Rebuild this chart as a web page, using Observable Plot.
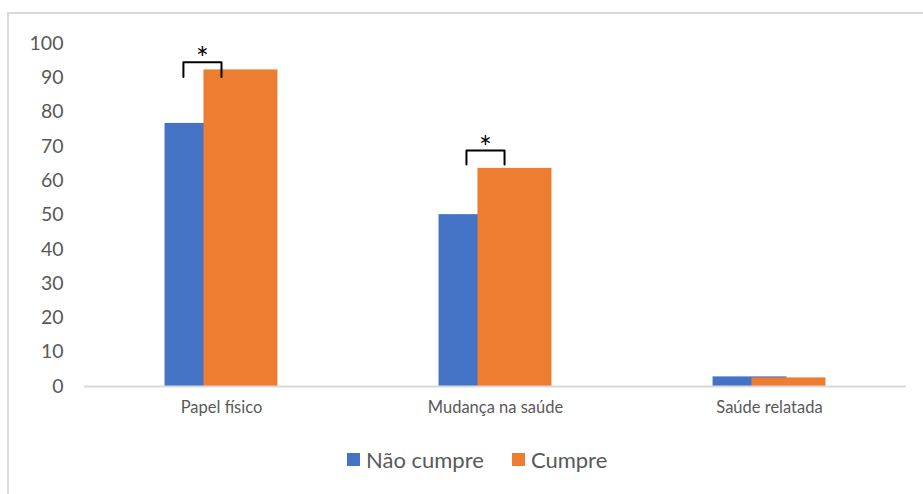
<!DOCTYPE html>
<html><head><meta charset="utf-8">
<script src="https://cdn.jsdelivr.net/npm/d3@7"></script>
<script src="https://cdn.jsdelivr.net/npm/@observablehq/plot@0.6"></script>
<style>
body{margin:0;background:#fff;width:923px;height:494px;overflow:hidden;position:relative;font-family:Lato,sans-serif}
#frame{position:absolute;left:7px;top:12px;width:1000px;height:600px;border:2px solid #d9d9d9;box-sizing:border-box}
#chart{position:absolute;left:0;top:0}
#legend{position:absolute;left:347px;top:446px;display:flex;align-items:center;font-size:22px;color:#595959;white-space:nowrap}
.item{display:flex;align-items:center;margin-right:28px}
.sw{width:13px;height:13px;margin-right:6px}
</style></head><body>
<div id="frame"></div><div id="chart"></div><div id="legend"></div>
<script>
// Data
const categories = ["Papel físico", "Mudança na saúde", "Saúde relatada"];
const seriesNames = ["Não cumpre", "Cumpre"];
const naoCumpre = [76.7, 50.1, 2.8];
const cumpre = [92.3, 63.6, 2.5];
const yTicks = [0, 10, 20, 30, 40, 50, 60, 70, 80, 90, 100];
// significance annotations (value levels)
const sigCategories = ["Papel físico", "Mudança na saúde"];
const sigTop = [94.5, 68.8];
const sigLeg = [90.2, 64.7];
const sigStar = [97.5, 71.5];

// Styling / layout
const colors = ["#4472C4", "#ED7D31"];
const seriesOffset = [-0.071, 0.071];
const barHalf = 0.135;
const bracketDx = [[-0.139, 0.0], [-0.106, 0.033]];

const rows = [];
seriesNames.forEach((s, si) => {
  const vals = si === 0 ? naoCumpre : cumpre;
  categories.forEach((c, ci) => rows.push({series: s, si, ci, category: c, value: vals[ci]}));
});
const cx = r => r.ci + 0.5 + seriesOffset[r.si];

const bracketPts = [];
const stars = [];
sigCategories.forEach((c, k) => {
  const ci = categories.indexOf(c);
  const L = ci + 0.5 + bracketDx[k][0], R = ci + 0.5 + bracketDx[k][1];
  bracketPts.push({k, x: L, y: sigLeg[k]}, {k, x: L, y: sigTop[k]}, {k, x: R, y: sigTop[k]}, {k, x: R, y: sigLeg[k]});
  stars.push({x: (L + R) / 2, y: sigStar[k]});
});

const chart = Plot.plot({
  width: 923,
  height: 430,
  marginLeft: 84,
  marginRight: 17,
  marginTop: 43,
  marginBottom: 44,
  style: {fontFamily: "Lato, sans-serif", color: "#595959", background: "transparent"},
  x: {type: "linear", domain: [0, 3]},
  y: {domain: [0, 100]},
  marks: [
    Plot.axisY({ticks: yTicks, tickSize: 0, tickPadding: 21, fontSize: 19.5, fill: "#595959", label: null}),
    Plot.axisX({ticks: categories.map((c, i) => i + 0.5), tickFormat: v => categories[Math.floor(v)], tickSize: 0, tickPadding: 15, fontSize: 16.5, fill: "#595959", label: null}),
    Plot.rectY(rows.filter(r => r.si === 0), {x1: r => cx(r) - barHalf, x2: r => cx(r) + barHalf, y1: 0, y2: "value", fill: colors[0]}),
    Plot.rectY(rows.filter(r => r.si === 1), {x1: r => cx(r) - barHalf, x2: r => cx(r) + barHalf, y1: 0, y2: "value", fill: colors[1]}),
    Plot.ruleY([0], {stroke: "#d9d9d9", strokeWidth: 2}),
    Plot.line(bracketPts, {x: "x", y: "y", z: "k", stroke: "#000", strokeWidth: 2, strokeLinejoin: "round"}),
    Plot.text(stars, {x: "x", y: "y", text: () => "*", fontSize: 30, fill: "#000", dy: 7})
  ]
});
document.getElementById("chart").appendChild(chart);

const leg = document.getElementById("legend");
seriesNames.forEach((s, i) => {
  const it = document.createElement("div");
  it.className = "item";
  const sw = document.createElement("div");
  sw.className = "sw";
  sw.style.background = colors[i];
  const t = document.createElement("span");
  t.textContent = s;
  it.appendChild(sw); it.appendChild(t);
  leg.appendChild(it);
});
</script>
</body></html>
